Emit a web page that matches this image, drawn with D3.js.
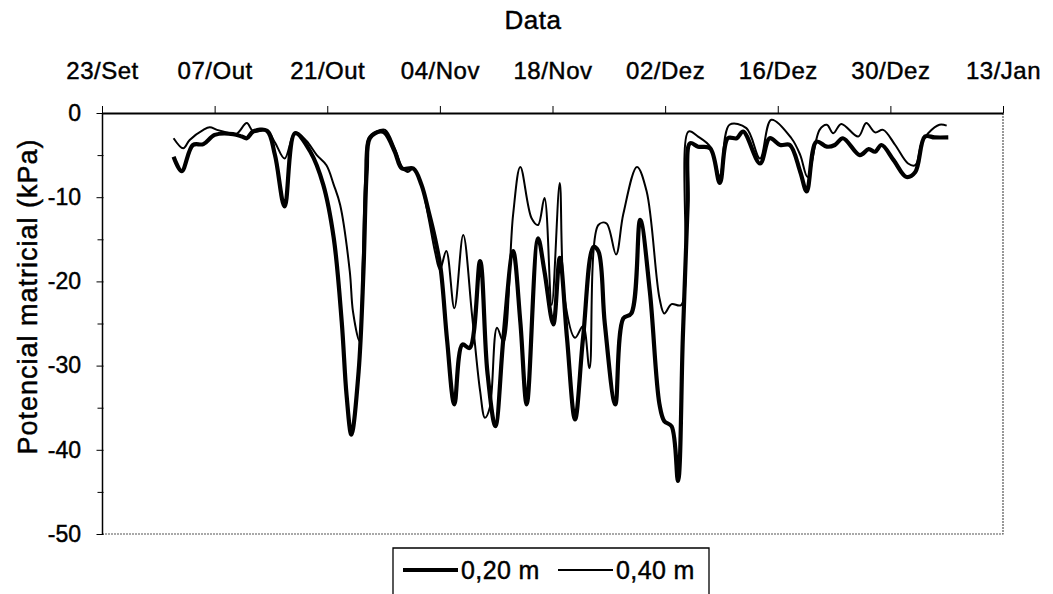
<!DOCTYPE html>
<html>
<head>
<meta charset="utf-8">
<script src="https://cdn.jsdelivr.net/npm/d3@7"></script>
<style>
	body { margin: 0; background: #fff; }
	text { font-family: "Liberation Sans", Arial, sans-serif; fill: #000; stroke: #000; stroke-width: 0.45px; }
</style>
</head>
<body>
<div id="chart"></div>
<script>
// Dias desde 23/Set e potencial matricial (kPa)

const dias20 = [8.9, 9.9, 11.3, 12.6, 14.0, 16.3, 17.4, 18.0, 18.8, 20.5, 21.5, 22.7, 24.0, 25.9, 27.5, 28.8, 29.8, 30.4, 31.0, 31.9, 32.5, 32.9, 33.3, 34.6, 35.2, 36.4, 37.3, 38.7, 39.7, 40.6, 41.4, 42.1, 42.9, 43.8, 44.8, 45.7, 47.0, 47.9, 48.9, 49.9, 51.1, 52.0, 52.8, 54.2, 55.0, 56.1, 56.9, 57.8, 58.8, 59.8, 61.1, 61.7, 62.5, 63.8, 64.8, 65.8, 66.9, 68.1, 69.3, 69.9, 70.8, 71.6, 72.2, 72.8, 73.1, 74.1, 75.6, 76.8, 77.8, 78.9, 79.7, 81.8, 83.0, 84.3, 85.5, 86.8, 87.6, 88.8, 90.1, 91.1, 92.1, 94.2, 95.3, 96.1, 96.9, 98.4, 100.0, 101.1, 102.3, 103.5, 105.2];
const pot20 = [-5.2, -6.9, -3.8, -3.7, -2.6, -2.5, -2.8, -3.0, -2.2, -2.1, -5.0, -11.1, -2.4, -4.6, -8.5, -14.8, -24.8, -33.5, -38.2, -30.7, -18.8, -7.0, -3.0, -2.2, -2.4, -4.6, -6.6, -6.6, -8.5, -11.7, -14.9, -18.5, -27.0, -34.6, -27.5, -27.9, -17.6, -30.7, -37.2, -26.7, -16.4, -24.8, -34.6, -14.9, -18.8, -25.1, -17.2, -26.7, -36.4, -26.7, -15.9, -16.4, -25.0, -34.6, -24.4, -23.8, -12.7, -21.2, -34.6, -36.6, -37.2, -43.7, -26.7, -10.9, -3.6, -4.0, -4.2, -8.3, -3.0, -3.0, -2.2, -6.0, -3.0, -3.8, -3.8, -7.0, -9.3, -3.4, -4.0, -3.8, -3.0, -5.0, -4.3, -4.6, -3.8, -5.6, -7.6, -7.0, -2.8, -2.9, -2.9];

const dias40 = [8.9, 10.1, 10.9, 12.6, 13.4, 14.3, 15.5, 16.7, 18.0, 18.8, 20.5, 21.5, 22.7, 24.0, 25.4, 26.7, 27.9, 28.8, 29.6, 30.8, 31.2, 32.0, 32.4, 32.7, 33.1, 34.1, 35.2, 36.4, 37.3, 38.0, 38.7, 39.7, 40.6, 41.4, 42.0, 42.8, 43.8, 44.9, 46.0, 47.0, 47.6, 48.2, 49.1, 49.9, 51.1, 52.0, 53.4, 54.2, 55.0, 55.9, 56.9, 57.5, 58.8, 59.8, 60.6, 61.7, 62.7, 63.9, 64.8, 66.5, 67.7, 69.3, 69.9, 70.8, 72.0, 72.9, 74.1, 75.6, 76.8, 78.0, 80.1, 81.8, 83.2, 85.7, 86.8, 87.7, 89.2, 90.1, 90.9, 91.9, 94.0, 95.0, 96.1, 97.1, 98.6, 100.2, 101.1, 101.9, 102.7, 104.1, 105.0];
const pot40 = [-3.0, -4.2, -3.2, -2.0, -1.7, -2.0, -2.3, -2.5, -1.2, -2.2, -2.1, -3.5, -5.4, -2.3, -3.3, -5.0, -6.2, -8.5, -10.9, -18.8, -23.6, -27.1, -18.0, -8.0, -3.0, -2.2, -2.0, -4.2, -6.4, -7.0, -6.6, -8.5, -12.5, -16.5, -18.6, -16.4, -23.2, -14.5, -24.0, -33.0, -36.2, -35.0, -25.5, -27.2, -12.1, -6.4, -12.5, -13.3, -10.1, -22.8, -8.3, -22.0, -26.7, -25.3, -30.3, -13.3, -13.1, -16.8, -12.0, -6.4, -9.3, -22.0, -23.8, -22.7, -22.8, -2.2, -2.8, -4.0, -7.5, -1.4, -1.8, -5.4, -0.8, -3.0, -5.0, -7.6, -2.0, -1.4, -2.4, -1.3, -2.8, -1.2, -2.3, -2.0, -3.8, -6.0, -6.2, -3.5, -2.4, -1.4, -1.5];

const tickDias = [0, 14, 28, 42, 56, 70, 84, 98, 112];
const tickRotulos = ["23/Set", "07/Out", "21/Out", "04/Nov", "18/Nov", "02/Dez", "16/Dez", "30/Dez", "13/Jan"];
const yTicks = [0, -10, -20, -30, -40, -50];
const yMinor = [-5, -15, -25, -35, -45];

const series = [
	{nome: "0,20 m", dias: dias20, pot: pot20, largura: 4.2},
	{nome: "0,40 m", dias: dias40, pot: pot40, largura: 2}
];

const W = 1053, H = 594;
const margin = {top: 113, right: 50, bottom: 60, left: 102};

const svg = d3.select("#chart")
	.append("svg")
	.attr("width", W)
	.attr("height", H);

const x = d3.scaleLinear().domain([0, 112]).range([margin.left, W - margin.right]);
const y = d3.scaleLinear().domain([-50, 0]).range([H - margin.bottom, margin.top]);

// borda direita e inferior (pontilhada, cinza)
svg.append("path")
	.attr("d", `M${x(0)},${y(-50)}H${x(112)}V${y(0)}`)
	.attr("fill", "none")
	.attr("stroke", "#555")
	.attr("stroke-width", 1.2)
	.attr("stroke-dasharray", "2,1");

// eixo superior (datas)
const xAxis = d3.axisTop(x)
	.tickValues(tickDias)
	.tickFormat((d, i) => tickRotulos[i])
	.tickSize(7)
	.tickSizeOuter(0);
const gx = svg.append("g")
	.attr("transform", `translate(0,${y(0)})`)
	.call(xAxis);
gx.select(".domain").attr("stroke-width", 2.2);
gx.selectAll(".tick line").attr("stroke-width", 1);
gx.selectAll(".tick text")
	.attr("y", -34)
	.attr("dy", 0)
	.style("font-size", "24px")
	.style("letter-spacing", "0.5px");

// eixo esquerdo
const yAxis = d3.axisLeft(y)
	.tickValues(yTicks)
	.tickFormat(d => String(d))
	.tickSize(7)
	.tickPadding(14)
	.tickSizeOuter(0);
const gy = svg.append("g")
	.attr("transform", `translate(${x(0)},0)`)
	.call(yAxis);
gy.select(".domain").attr("stroke-width", 1.5);
gy.selectAll(".tick line").attr("transform", "translate(1.5,0)");
gy.selectAll(".tick text").style("font-size", "23px");

svg.append("g")
	.attr("transform", `translate(${x(0)},0)`)
	.call(d3.axisLeft(y).tickValues(yMinor).tickFormat("").tickSize(6).tickSizeOuter(0))
	.call(g => g.select(".domain").remove())
	.selectAll(".tick line").attr("transform", "translate(1.5,0)");

// títulos
svg.append("text")
	.attr("x", 533)
	.attr("y", 29)
	.attr("text-anchor", "middle")
	.style("font-size", "26px")
	.style("letter-spacing", "0.5px")
	.text("Data");

svg.append("text")
	.attr("transform", `translate(37,${(y(0) + y(-50)) / 2 - 27}) rotate(-90)`)
	.attr("text-anchor", "middle")
	.style("font-size", "27px")
	.style("letter-spacing", "1px")
	.text("Potencial matricial (kPa)");

// linhas
const linha = d3.line()
	.x(d => x(d[0]))
	.y(d => y(d[1]))
	.curve(d3.curveCatmullRom.alpha(0.5));

series.forEach(s => {
	const pts = s.dias.map((d, i) => [d, s.pot[i]]);
	svg.append("path")
		.datum(pts)
		.attr("d", linha)
		.attr("fill", "none")
		.attr("stroke", "#000")
		.attr("stroke-width", s.largura)
		.attr("stroke-linejoin", "round");
});

// legenda
const leg = svg.append("g");
leg.append("path")
	.attr("d", "M393,600V548H709V600")
	.attr("fill", "none")
	.attr("stroke", "#000")
	.attr("stroke-width", 1.3);

const legX = [403, 558];
series.forEach((s, i) => {
	leg.append("line")
		.attr("x1", legX[i]).attr("x2", legX[i] + 55)
		.attr("y1", 570).attr("y2", 570)
		.attr("stroke", "#000")
		.attr("stroke-width", s.largura);
	leg.append("text")
		.attr("x", legX[i] + 58)
		.attr("y", 579)
		.style("font-size", "25px")
		.style("letter-spacing", "0.4px")
		.text(s.nome);
});
</script>
</body>
</html>
